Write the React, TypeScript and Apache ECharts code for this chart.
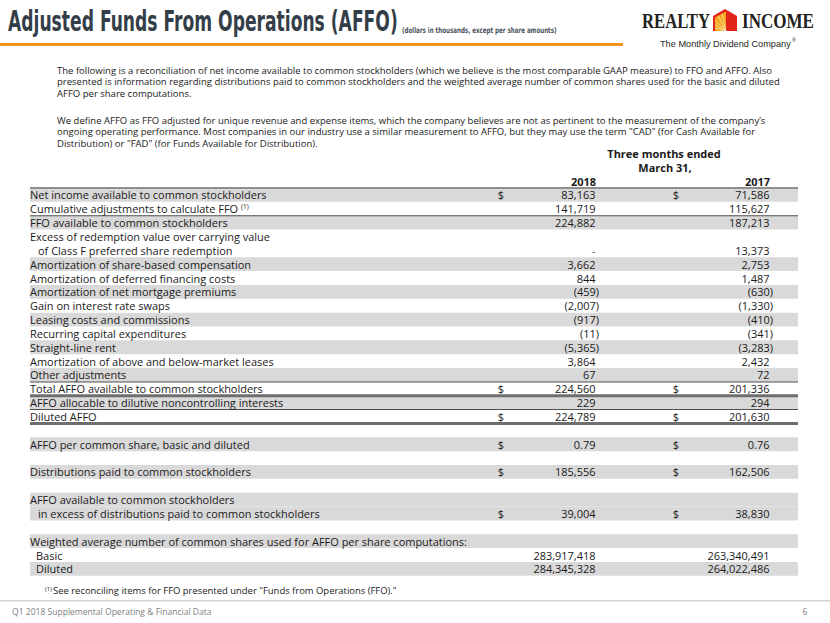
import React, { useEffect, useRef } from 'react';
import * as echarts from 'echarts';

// ---------- DATA ----------
const titleText = 'Adjusted Funds From Operations (AFFO)';
const subtitleText = '(dollars in thousands, except per share amounts)';
const taglineText = 'The Monthly Dividend Company';
const footerText = 'Q1 2018 Supplemental Operating & Financial Data';
const pageNumber = '6';

const paragraphLines = [
  'The following is a reconciliation of net income available to common stockholders (which we believe is the most comparable GAAP measure) to FFO and AFFO. Also',
  'presented is information regarding distributions paid to common stockholders and the weighted average number of common shares used for the basic and diluted',
  'AFFO per share computations.',
  'We define AFFO as FFO adjusted for unique revenue and expense items, which the company believes are not as pertinent to the measurement of the company\u2019s',
  'ongoing operating performance. Most companies in our industry use a similar measurement to AFFO, but they may use the term "CAD" (for Cash Available for',
  'Distribution) or "FAD" (for Funds Available for Distribution).',
];

const headerLines = ['Three months ended', 'March 31,'];
const yearLabels = ['2018', '2017'];

const rowLabels = [
  'Net income available to common stockholders',
  'Cumulative adjustments to calculate FFO',
  'FFO available to common stockholders',
  'Excess of redemption value over carrying value',
  'of Class F preferred share redemption',
  'Amortization of share-based compensation',
  'Amortization of deferred financing costs',
  'Amortization of net mortgage premiums',
  'Gain on interest rate swaps',
  'Leasing costs and commissions',
  'Recurring capital expenditures',
  'Straight-line rent',
  'Amortization of above and below-market leases',
  'Other adjustments',
  'Total AFFO available to common stockholders',
  'AFFO allocable to dilutive noncontrolling interests',
  'Diluted AFFO',
  '',
  'AFFO per common share, basic and diluted',
  '',
  'Distributions paid to common stockholders',
  '',
  'AFFO available to common stockholders',
  'in excess of distributions paid to common stockholders',
  '',
  'Weighted average number of common shares used for AFFO per share computations:',
  'Basic',
  'Diluted',
];

const values2018 = [
  '83,163', '141,719', '224,882', '', '-', '3,662', '844', '(459)', '(2,007)', '(917)',
  '(11)', '(5,365)', '3,864', '67', '224,560', '229', '224,789', '', '0.79', '',
  '185,556', '', '', '39,004', '', '', '283,917,418', '284,345,328',
];

const values2017 = [
  '71,586', '115,627', '187,213', '', '13,373', '2,753', '1,487', '(630)', '(1,330)', '(410)',
  '(341)', '(3,283)', '2,432', '72', '201,336', '294', '201,630', '', '0.76', '',
  '162,506', '', '', '38,830', '', '', '263,340,491', '264,022,486',
];

const dollarRows = [0, 14, 16, 18, 20, 23];
const shadedRows = [0, 2, 5, 7, 9, 11, 13, 15, 18, 20, 22, 23, 25, 27];
const indentRows = [4, 23, 26, 27];
const footnoteRows = [1];
const thinRuleTops = [2, 14, 16];
const thickRuleTops = [15, 17];

const footnoteMark = '(1)';
const footnoteText = 'See reconciling items for FFO presented under "Funds from Operations (FFO)."';

// ---------- LAYOUT ----------
const FAMILY = "'Open Sans', 'Noto Sans', 'DejaVu Sans', sans-serif";
const NARROW = "'Liberation Sans Narrow', 'DejaVu Sans Condensed', 'Liberation Sans', sans-serif";
const SERIF = "'Liberation Serif', 'DejaVu Serif', serif";
const TEXT = '#1a1a1a';
const SHADE = '#d9d9d9';
const TITLE_COLOR = '#343e48';
const ORANGE = '#f7941d';

const TABLE_L = 30;
const TABLE_R = 798;
const ROW_TOP = 188;
const ROW_H = 13.85;
const DOLLAR_X = [501, 676];
const NUM_R = [595.5, 769.5];

let ctx: CanvasRenderingContext2D | null = null;
function measure(text: string, font: string): number {
  if (!ctx) ctx = document.createElement('canvas').getContext('2d');
  if (!ctx) return text.length * 6;
  ctx.font = font;
  return ctx.measureText(text).width;
}
function fitSize(text: string, weight: string, family: string, target: number) {
  const w = measure(text, `${weight} 20px ${family}`);
  return (20 * target) / w;
}

function txt(x: number, y: number, text: string, opts: any = {}) {
  const align = opts.align || 'left';
  const valign = opts.valign || 'middle';
  const el: any = {
    type: 'text',
    x,
    y,
    silent: true,
    style: {
      text,
      fill: opts.fill || TEXT,
      fontSize: opts.size || 11,
      fontFamily: opts.family || FAMILY,
      fontWeight: opts.weight || 'normal',
      align,
      textAlign: align,
      verticalAlign: valign,
      textVerticalAlign: valign,
    },
  };
  if (opts.scaleX) el.scaleX = opts.scaleX;
  return el;
}

function buildElements() {
  const els: any[] = [];

  // Title
  const titleSize = 28;
  const titleW = measure(titleText, `bold ${titleSize}px ${NARROW}`);
  els.push(txt(8, 22, titleText, { size: titleSize, family: NARROW, weight: 'bold', fill: TITLE_COLOR, scaleX: 390 / titleW }));
  const subSize = 8;
  const subW = measure(subtitleText, `bold ${subSize}px ${NARROW}`);
  els.push(txt(402, 30, subtitleText, { size: subSize, family: NARROW, weight: 'bold', fill: '#4a545e', scaleX: 155 / subW }));

  // Orange rule
  els.push({ type: 'rect', shape: { x: 0, y: 43, width: 623, height: 3 }, style: { fill: ORANGE }, silent: true });

  // Logo
  const logoSize = 21;
  const rW = measure('REALTY', `bold ${logoSize}px ${SERIF}`);
  els.push(txt(642, 21, 'REALTY', { size: logoSize, family: SERIF, weight: 'bold', fill: '#231f20', scaleX: 68 / rW }));
  const iW = measure('INCOME', `bold ${logoSize}px ${SERIF}`);
  els.push(txt(742, 21, 'INCOME', { size: logoSize, family: SERIF, weight: 'bold', fill: '#231f20', scaleX: 72 / iW }));
  els.push({ type: 'polygon', silent: true, shape: { points: [[713, 16], [725, 9], [737, 16], [737, 31], [713, 31]] }, style: { fill: '#e2231a' } });
  els.push({ type: 'polygon', silent: true, shape: { points: [[715, 17.5], [726, 11.5], [726, 31], [715, 31]] }, style: { fill: '#f8a51b' } });
  [[715, 20], [715, 24.5], [715, 28], [718, 15.8], [722, 13.6]].forEach((p) => {
    els.push({ type: 'line', silent: true, shape: { x1: 726, y1: 31, x2: p[0], y2: p[1] }, style: { stroke: '#fde3b0', lineWidth: 0.8 } });
  });
  const tagFamily = "'Liberation Sans', 'Open Sans', sans-serif";
  const tagSize = fitSize(taglineText, 'normal', tagFamily, 131);
  els.push(txt(660, 43.5, taglineText, { size: tagSize, family: tagFamily, fill: '#231f20' }));
  els.push(txt(792, 39.5, '\u00ae', { size: 5, family: tagFamily, fill: '#231f20' }));

  // Paragraphs
  const paraSize = fitSize(paragraphLines[0], 'normal', FAMILY, 716);
  const paraY = [70, 81.7, 93.3, 120, 131.7, 143.3];
  paragraphLines.forEach((line, i) => els.push(txt(57, paraY[i], line, { size: paraSize })));

  // Table
  const tSize = fitSize(rowLabels[0], 'normal', FAMILY, 237);
  shadedRows.forEach((r) => {
    els.push({ type: 'rect', silent: true, shape: { x: TABLE_L, y: ROW_TOP + r * ROW_H, width: TABLE_R - TABLE_L, height: ROW_H }, style: { fill: SHADE } });
  });

  // header
  els.push(txt(664, 153, headerLines[0], { size: tSize, weight: 'bold', align: 'center' }));
  els.push(txt(665, 167, headerLines[1], { size: tSize, weight: 'bold', align: 'center' }));
  els.push(txt(NUM_R[0] + 0.5, 181, yearLabels[0], { size: tSize, weight: 'bold', align: 'right' }));
  els.push(txt(NUM_R[1] + 0.5, 181, yearLabels[1], { size: tSize, weight: 'bold', align: 'right' }));

  // rules
  els.push({ type: 'rect', silent: true, shape: { x: TABLE_L, y: ROW_TOP - 1, width: TABLE_R - TABLE_L, height: 2 }, style: { fill: '#8f8f8f' } });
  thinRuleTops.forEach((r) => {
    els.push({ type: 'rect', silent: true, shape: { x: TABLE_L, y: ROW_TOP + r * ROW_H - 0.5, width: TABLE_R - TABLE_L, height: 1 }, style: { fill: '#505050' } });
  });
  thickRuleTops.forEach((r) => {
    els.push({ type: 'rect', silent: true, shape: { x: TABLE_L, y: ROW_TOP + r * ROW_H - 1.5, width: TABLE_R - TABLE_L, height: 3 }, style: { fill: '#6e6e6e' } });
  });

  rowLabels.forEach((label, i) => {
    const cy = ROW_TOP + i * ROW_H + ROW_H / 2;
    if (label) {
      const x = indentRows.indexOf(i) >= 0 ? (i >= 26 ? 36 : 38) : TABLE_L;
      els.push(txt(x, cy, label, { size: tSize }));
      if (footnoteRows.indexOf(i) >= 0) {
        const w = measure(label, `normal ${tSize}px ${FAMILY}`);
        els.push(txt(x + w + 3, cy - 2, footnoteMark, { size: tSize * 0.6 }));
      }
    }
    [values2018[i], values2017[i]].forEach((v, c) => {
      if (!v) return;
      const paren = v.charAt(v.length - 1) === ')';
      els.push(txt(NUM_R[c] + (paren ? 3.5 : 0), cy, v, { size: tSize, align: 'right', fill: v === '-' ? '#555' : TEXT }));
    });
    if (dollarRows.indexOf(i) >= 0) {
      els.push(txt(DOLLAR_X[0], cy, '$', { size: tSize, align: 'center' }));
      els.push(txt(DOLLAR_X[1], cy, '$', { size: tSize, align: 'center' }));
    }
  });

  // footnote
  const fnSize = fitSize(footnoteText, 'normal', FAMILY, 344);
  els.push(txt(45, 588, footnoteMark, { size: fnSize * 0.65 }));
  els.push(txt(53, 590, footnoteText, { size: fnSize }));

  // footer
  els.push({ type: 'rect', silent: true, shape: { x: 0, y: 600, width: 830, height: 1.5 }, style: { fill: '#d4d4d4' } });
  const ftSize = fitSize(footerText, 'normal', FAMILY, 200);
  els.push(txt(12, 611.5, footerText, { size: ftSize, fill: '#808080' }));
  els.push(txt(805, 611.5, pageNumber, { size: ftSize, fill: '#808080', align: 'center' }));

  return els;
}

export default function App() {
  const ref = useRef<HTMLDivElement>(null);
  useEffect(() => {
    if (!ref.current) return;
    const chart = echarts.init(ref.current, null, { renderer: 'svg' });
    chart.setOption({
      animation: false,
      backgroundColor: '#ffffff',
      graphic: { elements: buildElements() },
    });
    return () => chart.dispose();
  }, []);
  return <div ref={ref} style={{ position: 'fixed', left: 0, top: 0, width: 830, height: 623 }} />;
}
